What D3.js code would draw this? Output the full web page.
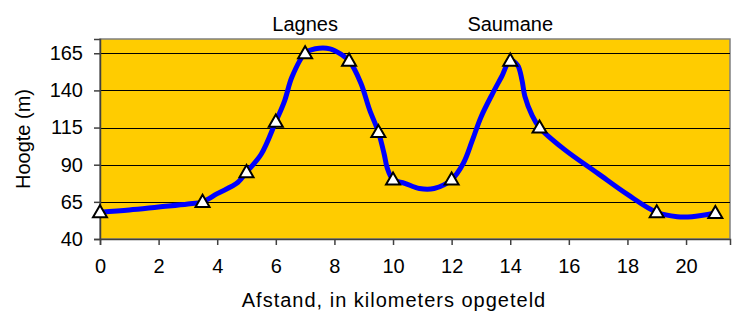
<!DOCTYPE html>
<html lang="en">
<head>
    <meta charset="UTF-8">
    <title>Hoogteprofiel</title>
    <script src="https://d3js.org/d3.v7.min.js"></script>
    <style>
        body { margin: 0; background: #fff; }
        text { font-family: "Liberation Sans", Arial, sans-serif; fill: #000; }
        .line { fill: none; stroke: #0000ff; stroke-width: 5px; stroke-linejoin: round; }
        .grid line { stroke: #000; stroke-width: 1px; }
    </style>
</head>
<body>
    <svg width="734" height="311"></svg>

    <script>
        // Measured points (km, m) with a marker
        const markerKm = [0, 3.5, 5, 6, 7, 8.5, 9.5, 10, 12, 14, 15, 19, 21];
        const markerM = [58, 65, 85, 119, 165, 160, 112, 80, 80, 160, 115, 58, 57.5];

        // Profile line
        const lineKm = [0, 1, 2, 3, 3.5, 4, 4.7, 5, 5.5, 6, 6.3, 6.55, 7, 7.35, 7.85, 8.25, 8.5, 8.9, 9.2, 9.5, 9.7, 9.8, 10,
            10.4, 10.9, 11.4, 12, 12.4, 12.7, 13, 13.4, 13.7, 14, 14.25, 14.4, 14.5, 14.75, 15, 15.8, 17, 18, 19, 19.7, 20.2, 21];
        const lineM = [58, 59.5, 61.5, 63.5, 65, 70.5, 78, 85, 97, 119, 133, 149, 165, 168, 168, 164, 160, 145, 127, 112, 97, 88, 80,
            77.5, 74, 74, 80, 91, 106, 122, 138, 149, 160, 157, 147, 136, 123, 115, 101, 84, 70, 58, 55, 55, 57.5];

        const xTicks = [0, 2, 4, 6, 8, 10, 12, 14, 16, 18, 20];
        const yTicks = [40, 65, 90, 115, 140, 165];

        const places = ["Lagnes", "Saumane"];
        const placeKm = [7, 14];

        const margin = { top: 39, right: 4, bottom: 72, left: 100 };
        const width = 734 - margin.left - margin.right;
        const height = 311 - margin.top - margin.bottom;

        const svg = d3.select("svg")
            .append("g")
            .attr("transform", `translate(${margin.left},${margin.top})`);

        const x = d3.scaleLinear().domain([0, 21.5]).range([0, width]);
        const y = d3.scaleLinear().domain([40, 174.6]).range([height, 0]);

        // plot area
        svg.append("rect")
            .attr("width", width)
            .attr("height", height)
            .attr("fill", "#ffcc00")
            .attr("stroke", "#808080")
            .attr("stroke-width", 1.5);

        // gridlines
        svg.append("g")
            .attr("class", "grid")
            .selectAll("line")
            .data(yTicks.slice(1))
            .join("line")
            .attr("x1", 0)
            .attr("x2", width)
            .attr("y1", d => Math.round(y(d)) + 0.5)
            .attr("y2", d => Math.round(y(d)) + 0.5);

        // axes
        const xAxis = svg.append("g")
            .attr("transform", `translate(0,${height})`)
            .call(d3.axisBottom(x).tickValues(xTicks).tickSize(6).tickPadding(14).tickFormat(d3.format("d")));
        const yAxis = svg.append("g")
            .call(d3.axisLeft(y).tickValues(yTicks).tickSize(6).tickPadding(11).tickFormat(d3.format("d")));

        [xAxis, yAxis].forEach(g => {
            g.select(".domain").attr("stroke", "#404040").attr("stroke-width", 1.5);
            g.selectAll(".tick line").attr("stroke", "#404040").attr("stroke-width", 1.5);
            g.selectAll(".tick text").attr("font-size", 20).attr("font-family", "Liberation Sans, Arial, sans-serif").attr("fill", "#000");
        });

        // profile line
        const lineData = lineKm.map((k, i) => [k, lineM[i]]);
        svg.append("path")
            .datum(lineData)
            .attr("class", "line")
            .attr("d", d3.line()
                .x(d => x(d[0]))
                .y(d => y(d[1]))
                .curve(d3.curveCatmullRom.alpha(0.5)));

        // triangle markers
        const tri = d3.symbol().type(d3.symbolTriangle).size(85);
        svg.append("g")
            .selectAll("path")
            .data(markerKm.map((k, i) => [k, markerM[i]]))
            .join("path")
            .attr("transform", d => `translate(${x(d[0])},${y(d[1]) + 1})`)
            .attr("d", tri)
            .attr("fill", "#fff")
            .attr("stroke", "#000")
            .attr("stroke-width", 2);

        // place labels
        svg.append("g")
            .selectAll("text")
            .data(places)
            .join("text")
            .attr("x", (d, i) => x(placeKm[i]))
            .attr("y", -8)
            .attr("text-anchor", "middle")
            .attr("font-size", 20)
            .text(d => d);

        // axis titles
        svg.append("text")
            .attr("x", 294)
            .attr("y", height + 68)
            .attr("text-anchor", "middle")
            .attr("font-size", 20)
            .attr("letter-spacing", 1)
            .text("Afstand, in kilometers opgeteld");

        svg.append("text")
            .attr("transform", `translate(-70,${height / 2}) rotate(-90)`)
            .attr("text-anchor", "middle")
            .attr("font-size", 20)
            .text("Hoogte (m)");
    </script>
</body>
</html>
